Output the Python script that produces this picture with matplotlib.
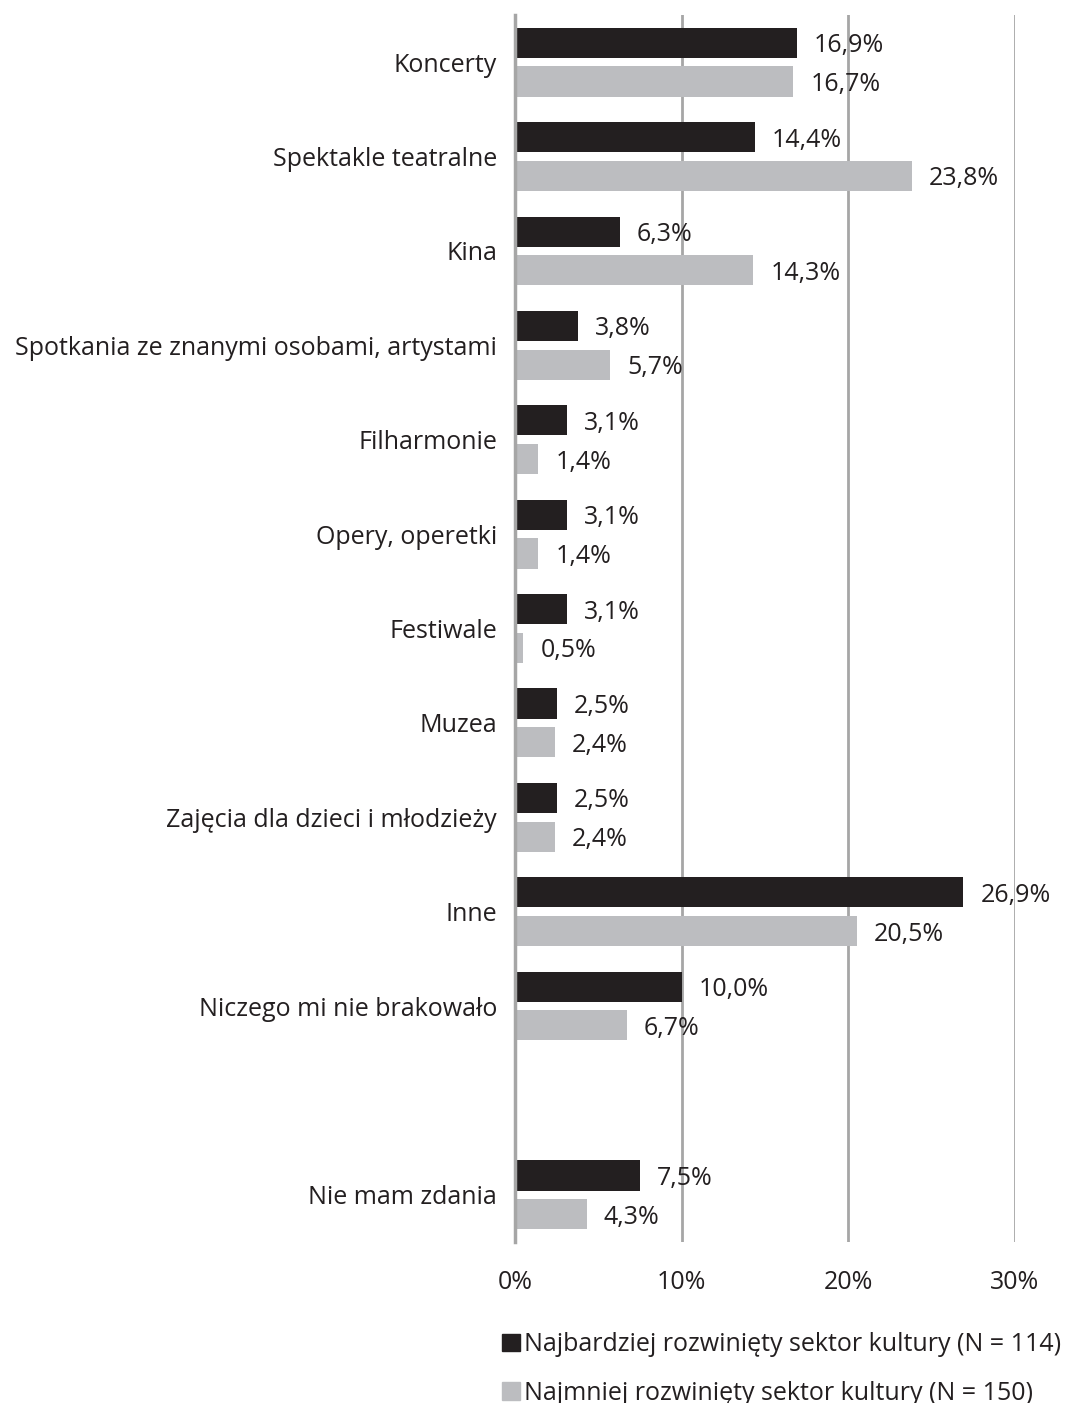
import matplotlib
matplotlib.use("Agg")
import matplotlib.pyplot as plt
from matplotlib.patches import Patch

plt.rcParams['font.family'] = ['Open Sans', 'DejaVu Sans']

categories = ["Koncerty", "Spektakle teatralne", "Kina",
              "Spotkania ze znanymi osobami, artystami", "Filharmonie",
              "Opery, operetki", "Festiwale", "Muzea",
              "Zajęcia dla dzieci i młodzieży", "Inne",
              "Niczego mi nie brakowało", "Nie mam zdania"]
most = [16.9, 14.4, 6.3, 3.8, 3.1, 3.1, 3.1, 2.5, 2.5, 26.9, 10.0, 7.5]
least = [16.7, 23.8, 14.3, 5.7, 1.4, 1.4, 0.5, 2.4, 2.4, 20.5, 6.7, 4.3]
series_names = ["Najbardziej rozwinięty sektor kultury (N = 114)",
                "Najmniej rozwinięty sektor kultury (N = 150)"]
xticks = [0, 10, 20, 30]

positions = list(range(11)) + [12]

c_dark = "#231f20"
c_light = "#bcbdc0"
fs = 18

fig = plt.figure(figsize=(10.66, 14.03), dpi=100)
ax = fig.add_axes([515/1066, 1-1242/1403, 500/1066, (1242-15)/1403])

h = 0.32
off = 0.205
yd = [p - off for p in positions]
yl = [p + off for p in positions]
ax.barh(yd, most, height=h, color=c_dark, zorder=3)
ax.barh(yl, least, height=h, color=c_light, zorder=3)

dx = 17 / (500/30)
for y, v in zip(yd, most):
    ax.text(v + dx, y, f"{v:.1f}%".replace('.', ','), va='center_baseline', ha='left',
            fontsize=fs, color='#231f20', zorder=4)
for y, v in zip(yl, least):
    ax.text(v + dx, y, f"{v:.1f}%".replace('.', ','), va='center_baseline', ha='left',
            fontsize=fs, color='#231f20', zorder=4)

ax.set_xlim(0, 30)
ax.set_ylim(12.5, -0.5)
ax.set_yticks(positions)
ax.set_yticklabels(categories, fontsize=fs, color='#231f20')
ax.set_xticks(xticks)
ax.set_xticklabels([f"{t}%" for t in xticks], fontsize=fs, color='#231f20')
ax.tick_params(axis='y', length=0, pad=13)
ax.tick_params(axis='x', length=0, pad=20)

for t in xticks[1:]:
    ax.axvline(t, color='#a6a6a6', lw=2, zorder=1)
for s in ['top', 'right', 'bottom']:
    ax.spines[s].set_visible(False)
ax.spines['left'].set_color('#a6a6a6')
ax.spines['left'].set_linewidth(2.5)
ax.spines['left'].set_zorder(5)

handles = [Patch(color=c_dark), Patch(color=c_light)]
fig.legend(handles, series_names, loc='upper left',
           bbox_to_anchor=(492/1066, 1-1322/1403), frameon=False,
           fontsize=fs, handlelength=0.7, handleheight=0.7,
           handletextpad=0.2, labelspacing=0.95, borderaxespad=0,
           labelcolor='#231f20')

fig.savefig("out.png", dpi=100, facecolor='white')
